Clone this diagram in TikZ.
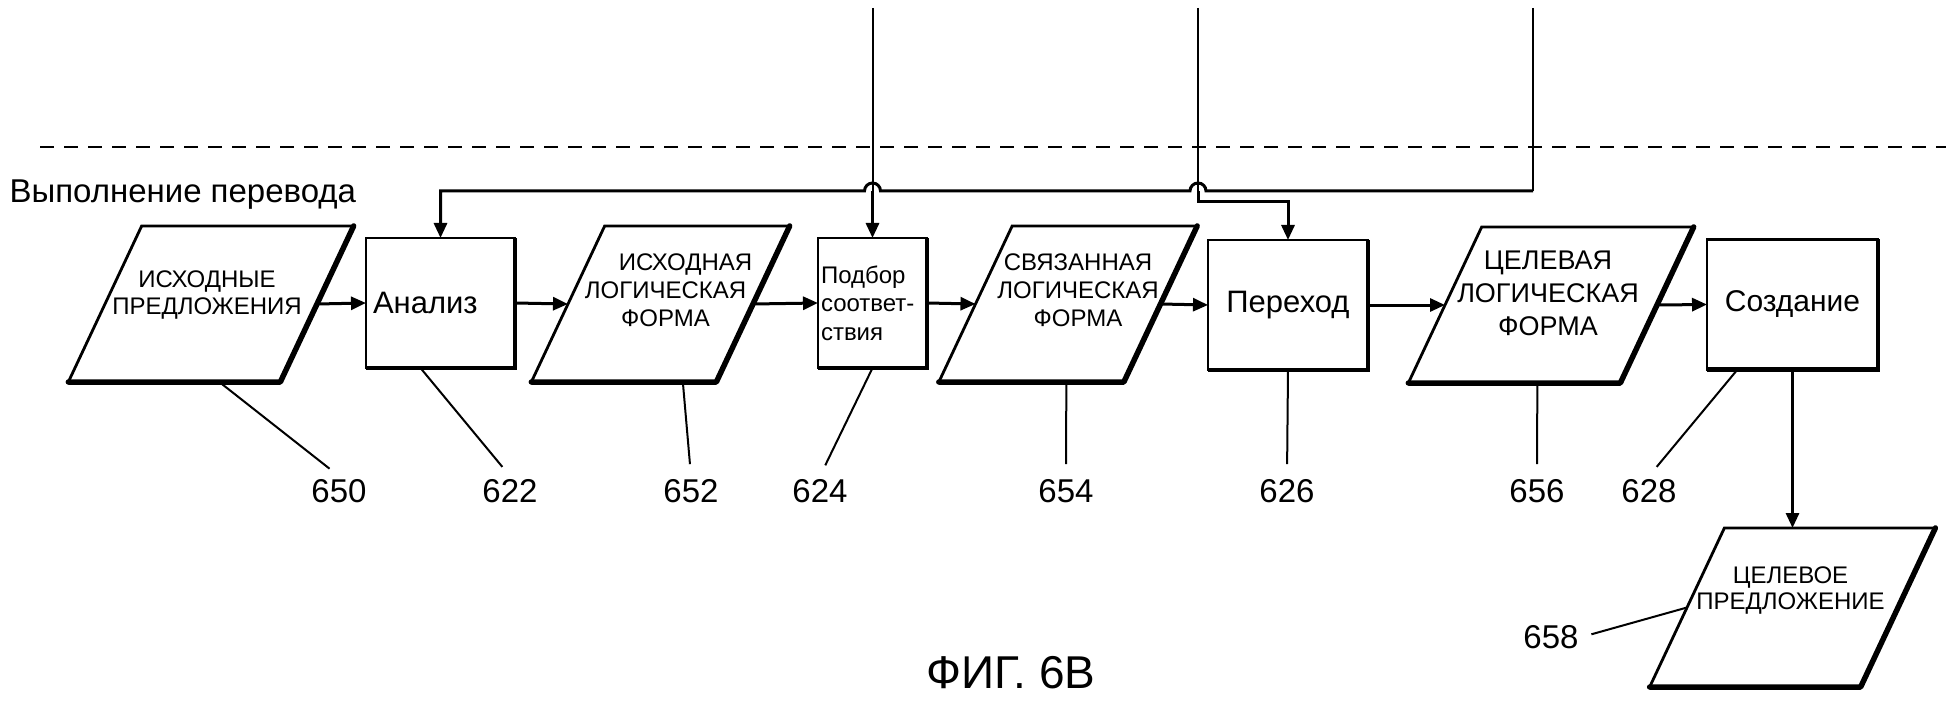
\documentclass[tikz,border=0pt]{standalone}
\usepackage{fontspec}
\setmainfont{Liberation Sans}
\usetikzlibrary{arrows.meta}

\tikzset{
  blk/.style={draw, line width=2.8pt, outer sep=0pt, inner sep=0pt, minimum height=130pt},
  para/.style={draw, line width=2.8pt, outer sep=0pt, inner sep=0pt, xslant=0.47,
    minimum height=156pt},
  heavy/.style={line width=5.5pt, line cap=round, line join=round},
  ptxt/.style={align=center, font=\fontsize{24}{27}\selectfont},
  arr/.style={line width=3pt, -{Triangle[length=15pt,width=13pt]}},
  lead/.style={line width=2pt, shorten >=12pt},
  num/.style={inner sep=3pt, font=\fontsize{33}{33}\selectfont},
}

\begin{document}
\begin{tikzpicture}[x=1pt,y=-1pt]
\useasboundingbox (0,0) rectangle (1948,703);

% upper boundary
\coordinate (dl) at (40,147);
\coordinate (dr) at (1946,147);
\draw[line width=2.5pt, dash pattern=on 14pt off 10pt] (dl) -- (dr);

\node[anchor=base west, font=\fontsize{33}{33}\selectfont] (title) at (6,203) {Выполнение перевода};

% main row
\node[para, minimum width=212pt] (p650) at (211,304) {};
\node[blk, minimum width=149pt, text width=135pt, align=left, font=\fontsize{31}{31}\selectfont] (analiz) at (440.5,303) {Анализ};
\node[para, minimum width=185pt] (p652) at (660.5,304) {};
\node[blk, minimum width=109pt, text width=103pt, align=left, font=\fontsize{24}{28.5}\selectfont] (podbor) at (872.5,303) {Подбор\\соответ-\\ствия};
\node[para, minimum width=185pt] (p654) at (1068,304) {};
\node[blk, minimum width=160pt, font=\fontsize{31}{31}\selectfont] (perehod) at (1288,305) {Переход};
\node[para, minimum width=212pt] (p656) at (1551,305) {};
\node[blk, minimum width=171pt, font=\fontsize{30}{30}\selectfont] (sozd) at (1792.5,304.5) {Создание};
\node[para, minimum width=211pt, minimum height=159pt] (p658) at (1792.5,607.5) {};

\draw[heavy] (p650.south west) -- (p650.south east) -- (p650.north east);
\draw[heavy] (p652.south west) -- (p652.south east) -- (p652.north east);
\draw[heavy] (p654.south west) -- (p654.south east) -- (p654.north east);
\draw[heavy] (p656.south west) -- (p656.south east) -- (p656.north east);
\draw[heavy] (p658.south west) -- (p658.south east) -- (p658.north east);
\draw[line width=4.5pt] (analiz.south west) -- (analiz.south east) -- (analiz.north east);
\draw[line width=4.5pt] (podbor.south west) -- (podbor.south east) -- (podbor.north east);
\draw[line width=4.5pt] (perehod.south west) -- (perehod.south east) -- (perehod.north east);
\draw[line width=4.5pt] (sozd.south west) -- (sozd.south east) -- (sozd.north east);

\node[ptxt] (t650) at ([xshift=-4pt,yshift=9pt]p650.center) {ИСХОДНЫЕ\\ПРЕДЛОЖЕНИЯ};
\node[ptxt, font=\fontsize{24}{28}\selectfont] (t652) at ([xshift=5pt,yshift=14pt]p652.center) {\hspace*{40pt}ИСХОДНАЯ\\ЛОГИЧЕСКАЯ\\ФОРМА};
\node[ptxt, font=\fontsize{24}{28}\selectfont] (t654) at ([xshift=10pt,yshift=14pt]p654.center) {СВЯЗАННАЯ\\ЛОГИЧЕСКАЯ\\ФОРМА};
\node[ptxt, font=\fontsize{27}{33}\selectfont] (t656) at ([xshift=-3pt,yshift=12pt]p656.center) {ЦЕЛЕВАЯ\\ЛОГИЧЕСКАЯ\\ФОРМА};
\node[ptxt, font=\fontsize{24}{26}\selectfont] (t658) at ([xshift=-2pt,yshift=17pt]p658.center) {ЦЕЛЕВОЕ\\ПРЕДЛОЖЕНИЕ};

% flow
\draw[arr] (p650.east) -- (analiz.west);
\draw[arr] (analiz.east) -- (p652.west);
\draw[arr] (p652.east) -- (podbor.west);
\draw[arr] (podbor.east) -- (p654.west);
\draw[arr] (p654.east) -- (perehod.west);
\draw[arr] (perehod.east) -- (p656.west);
\draw[arr] (p656.east) -- (sozd.west);
\draw[arr] (sozd.south) -- (sozd.south |- p658.north);

% inputs from above
\coordinate (top1) at (872.5,8);
\coordinate (top2) at (1198,8);
\coordinate (top3) at (1533,8);
\coordinate (bend2) at (1198,202);
\coordinate (bend3) at (1533,191);
\coordinate (hop2) at (1206,191);
\coordinate (hop1) at (880.5,191);
\draw[line width=2pt] (top1) -- (872.5,191);
\draw[arr] (872.5,191) -- (podbor.north);
\draw[line width=2pt] (top2) -- (1198,191);
\draw[arr] (1198,191) -- (bend2) -| (perehod.north);
\draw[line width=2pt] (top3) -- (bend3);
\draw[arr] (bend3) -- (hop2) arc[start angle=0, end angle=180, radius=8pt]
  -- (hop1) arc[start angle=0, end angle=180, radius=8pt] -| (analiz.north);

% reference numerals
\node[num] (n650) at (339,491) {650};
\node[num] (n622) at (510,491) {622};
\node[num] (n652) at (691,491) {652};
\node[num] (n624) at (820,491) {624};
\node[num] (n654) at (1066,491) {654};
\node[num] (n626) at (1287,491) {626};
\node[num] (n656) at (1537,491) {656};
\node[num] (n628) at (1649,491) {628};
\node[num] (n658) at (1551,637) {658};

\draw[lead] ([xshift=45pt]p650.south) -- (n650.north);
\draw[lead] ([xshift=-20pt]analiz.south) -- (n622.north);
\draw[lead] ([xshift=59pt]p652.south) -- (n652.north);
\draw[lead] (podbor.south) -- (n624.north);
\draw[lead] ([xshift=35pt]p654.south) -- (n654.north);
\draw[lead] (perehod.south) -- (n626.north);
\draw[lead] ([xshift=23pt]p656.south) -- (n656.north);
\draw[lead] ([xshift=-55pt]sozd.south) -- (n628.north);
\draw[line width=2pt, shorten <=10pt] (n658.east) -- (p658.west);

\node[anchor=base, font=\fontsize{46}{46}\selectfont] (fig) at (1011,688) {ФИГ. 6В};
\end{tikzpicture}
\end{document}
